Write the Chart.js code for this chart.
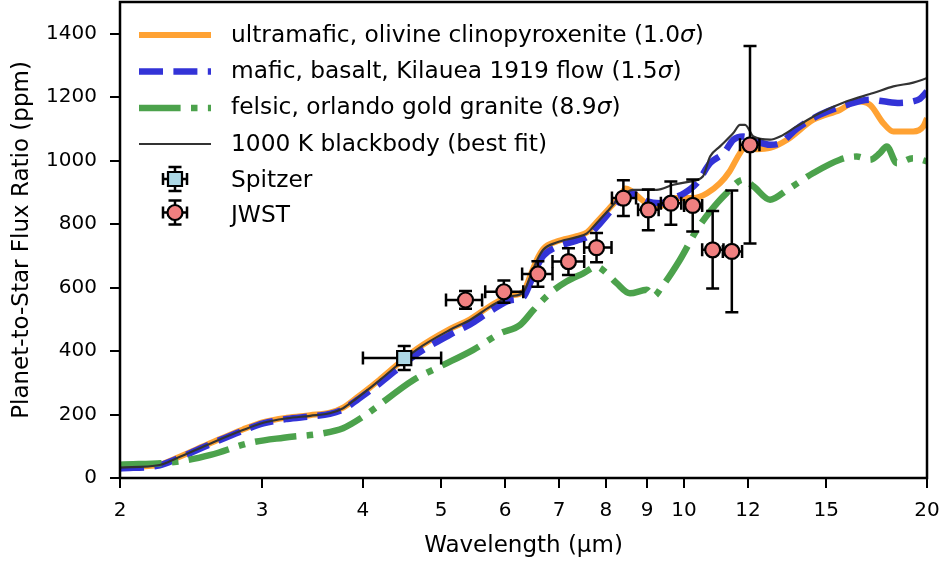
<!DOCTYPE html>
<html>
<head>
<meta charset="utf-8">
<script src="https://cdn.jsdelivr.net/npm/chart.js@4.4.0/dist/chart.umd.min.js"></script>
<style>
html, body { margin: 0; padding: 0; background: #fff; }
#wrap { width: 941px; height: 561px; position: relative; }
</style>
</head>
<body>
<div id="wrap"><canvas id="myChart"></canvas></div>
<script>
const ctx = document.getElementById('myChart').getContext('2d');

/*** Data ***/
const xTicks = [2, 3, 4, 5, 6, 7, 8, 9, 10, 12, 15, 20];
const yTicks = [0, 200, 400, 600, 800, 1000, 1200, 1400];

const umWave = [2.0, 2.24, 2.35, 2.59, 2.84, 3.01, 3.22, 3.44, 3.64, 3.78, 3.93, 4.08, 4.20, 4.66, 5.13, 5.43, 5.75, 6.09, 6.32, 6.46, 6.57, 6.69, 6.95, 7.36, 7.58, 7.79, 8.10, 8.35, 8.46, 8.99, 9.34, 9.78, 10.27, 10.67, 11.08, 11.38, 11.73, 11.96, 12.3, 12.78, 13.42, 14.46, 15.60, 16.36, 17.0, 17.66, 18.17, 19.23, 19.79, 20.0];
const umFlux = [33, 42, 63, 110, 153, 176, 190, 198, 206, 222, 253, 285, 311, 406, 470, 500, 542, 574, 587, 642, 688, 722, 745, 762, 774, 806, 853, 890, 912, 866, 856, 882, 882, 897, 929, 965, 1024, 1050, 1036, 1040, 1066, 1129, 1160, 1187, 1176, 1118, 1092, 1092, 1108, 1134];

const mafWave = [2.0, 2.24, 2.35, 2.59, 2.84, 3.01, 3.22, 3.44, 3.64, 3.78, 3.93, 4.08, 4.20, 4.66, 5.13, 5.43, 5.75, 6.09, 6.32, 6.46, 6.57, 6.69, 6.95, 7.36, 7.58, 7.79, 8.10, 8.35, 8.64, 8.99, 9.34, 9.70, 10.0, 10.37, 10.77, 11.2, 11.51, 11.84, 12.2, 12.78, 13.15, 13.79, 14.74, 15.91, 17.0, 17.66, 18.5, 19.23, 19.6, 20.0];
const mafFlux = [30, 40, 60, 107, 149, 172, 186, 194, 202, 216, 245, 275, 299, 390, 452, 484, 525, 560, 570, 620, 665, 700, 728, 748, 760, 790, 840, 880, 895, 872, 866, 882, 897, 929, 992, 1024, 1066, 1076, 1065, 1050, 1055, 1100, 1145, 1176, 1192, 1187, 1182, 1187, 1195, 1218];

const felWave = [2.0, 2.35, 2.59, 2.90, 3.19, 3.57, 3.78, 4.0, 4.62, 4.98, 5.48, 5.92, 6.26, 6.51, 6.82, 7.15, 7.50, 7.79, 8.02, 8.25, 8.57, 8.99, 9.16, 9.39, 9.88, 10.37, 10.77, 11.29, 11.84, 12.19, 12.78, 13.42, 14.46, 15.60, 16.36, 17.0, 17.49, 17.83, 18.35, 19.23, 20.0];
const felFlux = [42, 51, 73, 111, 127, 141, 157, 193, 309, 351, 404, 456, 482, 530, 582, 619, 645, 666, 645, 614, 582, 593, 572, 603, 687, 782, 840, 898, 940, 919, 877, 908, 961, 1003, 1013, 1003, 1024, 1045, 992, 1008, 998];

const bbWave = [2.0, 2.24, 2.35, 2.59, 2.84, 3.01, 3.22, 3.44, 3.64, 3.78, 3.93, 4.08, 4.20, 4.66, 5.13, 5.43, 5.75, 6.09, 6.32, 6.46, 6.57, 6.69, 6.95, 7.36, 7.58, 7.79, 8.10, 8.35, 8.64, 9.25, 9.70, 10.17, 10.55, 10.77, 11.08, 11.51, 11.73, 11.90, 12.19, 12.78, 13.15, 13.79, 14.74, 15.91, 17.16, 18.17, 19.23, 20.0];
const bbFlux = [33, 41, 62, 109, 151, 174, 188, 196, 204, 220, 251, 283, 309, 404, 467, 498, 540, 572, 585, 640, 685, 719, 742, 759, 771, 803, 850, 887, 908, 908, 924, 934, 950, 1013, 1045, 1087, 1113, 1113, 1076, 1066, 1076, 1108, 1150, 1187, 1213, 1234, 1246, 1260];

const spitzerWave = [4.5];
const spitzerFlux = [378];
const spitzerErr = [38];
const spitzerLo = [4.0];
const spitzerHi = [5.0];

const jwstWave = [5.36, 5.98, 6.59, 7.19, 7.79, 8.41, 9.03, 9.63, 10.25, 10.85, 11.46, 12.07];
const jwstFlux = [561, 587, 643, 682, 726, 882, 845, 866, 859, 719, 714, 1050];
const jwstErr = [28, 35, 40, 42, 46, 56, 64, 68, 82, 122, 192, 311];
const jwstLo = [5.07, 5.67, 6.30, 6.87, 7.52, 8.14, 8.77, 9.36, 10.0, 10.53, 11.17, 11.73];
const jwstHi = [5.62, 6.32, 6.87, 7.52, 8.13, 8.72, 9.30, 9.92, 10.53, 11.19, 11.80, 12.40];

const seriesLabels = [
    'ultramafic, olivine clinopyroxenite (1.0',
    'mafic, basalt, Kilauea 1919 flow (1.5',
    'felsic, orlando gold granite (8.9',
    '1000 K blackbody (best fit)',
    'Spitzer',
    'JWST'
];
/*************/

const ORANGE = '#ffa233';
const BLUE = '#3333d7';
const GREEN = '#4ca24c';
const DARK = '#333333';
const FONT = "'DejaVu Sans', sans-serif";

function toPoints(xs, ys) {
    return xs.map((x, i) => ({x: x, y: ys[i]}));
}

// draws errorbars just before the marker dataset so markers sit on top
const errorBars = {
    id: 'errorBars',
    beforeDatasetDraw(chart, args) {
        const ds = chart.data.datasets[args.index];
        if (!ds.errY) return;
        const { ctx, scales: { x, y } } = chart;
        const cap = 6.5;
        ctx.save();
        ctx.strokeStyle = '#000';
        ctx.lineWidth = 2.5;
        ds.data.forEach(function(p, i) {
            const px = x.getPixelForValue(p.x);
            const py = y.getPixelForValue(p.y);
            const x0 = x.getPixelForValue(ds.errXLo[i]);
            const x1 = x.getPixelForValue(ds.errXHi[i]);
            const y0 = y.getPixelForValue(p.y - ds.errY[i]);
            const y1 = y.getPixelForValue(p.y + ds.errY[i]);
            ctx.beginPath();
            ctx.moveTo(x0, py); ctx.lineTo(x1, py);
            ctx.moveTo(px, y0); ctx.lineTo(px, y1);
            ctx.moveTo(x0, py - cap); ctx.lineTo(x0, py + cap);
            ctx.moveTo(x1, py - cap); ctx.lineTo(x1, py + cap);
            ctx.moveTo(px - cap, y0); ctx.lineTo(px + cap, y0);
            ctx.moveTo(px - cap, y1); ctx.lineTo(px + cap, y1);
            ctx.stroke();
        });
        ctx.restore();
    }
};

// frame + legend block
const frameAndLegend = {
    id: 'frameAndLegend',
    afterDraw(chart) {
        const { ctx, chartArea: { top, right, bottom, left } } = chart;
        ctx.save();
        ctx.strokeStyle = '#000';
        ctx.lineWidth = 2.5;
        ctx.strokeRect(left, top, right - left, bottom - top);

        const lineY = [35, 71.5, 108, 144, 179, 212.5];
        const baseY = [41.5, 77.5, 114, 151, 186.5, 221.5];
        const textX = 231;
        const x0 = 139, x1 = 211, mx = 175;

        // line entries
        const styles = [
            {color: ORANGE, width: 6, dash: []},
            {color: BLUE, width: 6.5, dash: [24, 10.4]},
            {color: GREEN, width: 6.5, dash: [41.6, 10.4, 6.5, 10.4]},
            {color: DARK, width: 2.2, dash: []}
        ];
        styles.forEach(function(s, i) {
            ctx.beginPath();
            ctx.strokeStyle = s.color;
            ctx.lineWidth = s.width;
            ctx.setLineDash(s.dash);
            ctx.lineCap = 'butt';
            ctx.moveTo(x0, lineY[i]);
            ctx.lineTo(x1, lineY[i]);
            ctx.stroke();
        });
        ctx.setLineDash([]);

        // errorbar marker entries
        [[4, 'rect', '#add8e6'], [5, 'circle', '#f08080']].forEach(function(e) {
            const cy = lineY[e[0]];
            ctx.strokeStyle = '#000';
            ctx.lineWidth = 2.5;
            ctx.beginPath();
            ctx.moveTo(mx - 12, cy); ctx.lineTo(mx + 12, cy);
            ctx.moveTo(mx, cy - 12); ctx.lineTo(mx, cy + 12);
            ctx.moveTo(mx - 12, cy - 6); ctx.lineTo(mx - 12, cy + 6);
            ctx.moveTo(mx + 12, cy - 6); ctx.lineTo(mx + 12, cy + 6);
            ctx.moveTo(mx - 6.5, cy - 12); ctx.lineTo(mx + 6.5, cy - 12);
            ctx.moveTo(mx - 6.5, cy + 12); ctx.lineTo(mx + 6.5, cy + 12);
            ctx.stroke();
            ctx.fillStyle = e[2];
            ctx.lineWidth = 2.2;
            ctx.beginPath();
            if (e[1] === 'rect') {
                ctx.rect(mx - 7, cy - 7, 14, 14);
            } else {
                ctx.arc(mx, cy, 7.5, 0, Math.PI * 2);
            }
            ctx.fill();
            ctx.stroke();
        });

        // texts
        ctx.fillStyle = '#000';
        ctx.textBaseline = 'alphabetic';
        ctx.textAlign = 'left';
        seriesLabels.forEach(function(label, i) {
            ctx.font = '23.3px ' + FONT;
            ctx.fillText(label, textX, baseY[i]);
            if (i < 3) {
                let w = ctx.measureText(label).width;
                ctx.font = 'italic 23.3px ' + FONT;
                ctx.fillText('\u03c3', textX + w, baseY[i]);
                w += ctx.measureText('\u03c3').width;
                ctx.font = '23.3px ' + FONT;
                ctx.fillText(')', textX + w, baseY[i]);
            }
        });
        ctx.restore();
    }
};

//data
const data = {
    datasets: [
        {
            label: 'JWST',
            data: toPoints(jwstWave, jwstFlux),
            errY: jwstErr, errXLo: jwstLo, errXHi: jwstHi,
            showLine: false,
            pointStyle: 'circle',
            pointRadius: 7.5,
            pointBackgroundColor: '#f08080',
            pointBorderColor: '#000',
            pointBorderWidth: 2.2,
            order: 0
        },
        {
            label: 'Spitzer',
            data: toPoints(spitzerWave, spitzerFlux),
            errY: spitzerErr, errXLo: spitzerLo, errXHi: spitzerHi,
            showLine: false,
            pointStyle: 'rect',
            pointRadius: 10,
            pointBackgroundColor: '#add8e6',
            pointBorderColor: '#000',
            pointBorderWidth: 2.2,
            order: 1
        },
        {
            label: seriesLabels[3],
            data: toPoints(bbWave, bbFlux),
            showLine: true,
            borderColor: DARK,
            borderWidth: 2.2,
            pointRadius: 0,
            cubicInterpolationMode: 'monotone',
            order: 2
        },
        {
            label: seriesLabels[2],
            data: toPoints(felWave, felFlux),
            showLine: true,
            borderColor: GREEN,
            borderWidth: 6.5,
            borderDash: [41.6, 10.4, 6.5, 10.4],
            pointRadius: 0,
            cubicInterpolationMode: 'monotone',
            order: 3
        },
        {
            label: seriesLabels[1],
            data: toPoints(mafWave, mafFlux),
            showLine: true,
            borderColor: BLUE,
            borderWidth: 6.5,
            borderDash: [24, 10.4],
            pointRadius: 0,
            cubicInterpolationMode: 'monotone',
            order: 4
        },
        {
            label: seriesLabels[0],
            data: toPoints(umWave, umFlux),
            showLine: true,
            borderColor: ORANGE,
            borderWidth: 6,
            pointRadius: 0,
            cubicInterpolationMode: 'monotone',
            order: 5
        }
    ]
};

Chart.defaults.color = '#000';
Chart.defaults.font.family = FONT;

//config
const config = {
    type: 'scatter',
    data,
    options: {
        responsive: true,
        maintainAspectRatio: false,
        animation: false,
        layout: { autoPadding: false, padding: { top: 2, right: 14, left: 0, bottom: 0 } },
        plugins: {
            legend: { display: false },
            tooltip: { enabled: false }
        },
        scales: {
            x: {
                type: 'logarithmic',
                min: 2,
                max: 20,
                border: { display: false },
                grid: { drawOnChartArea: false, drawTicks: true, tickLength: 10, tickColor: '#000', lineWidth: 2 },
                ticks: {
                    autoSkip: false,
                    maxRotation: 0,
                    padding: 11,
                    font: { size: 20 },
                    callback: function(value) { return String(value); }
                },
                afterBuildTicks: function(scale) {
                    scale.ticks = xTicks.map(v => ({ value: v }));
                },
                afterFit: function(scale) {
                    scale.height = 83;
                    scale.paddingLeft = 0;
                    scale.paddingRight = 0;
                },
                title: {
                    display: true,
                    text: 'Wavelength (\u00b5m)',
                    font: { size: 23 },
                    padding: { top: 0, bottom: 1 }
                }
            },
            y: {
                type: 'linear',
                min: 0,
                max: 1500,
                border: { display: false },
                grid: { drawOnChartArea: false, drawTicks: true, tickLength: 10, tickColor: '#000', lineWidth: 2 },
                ticks: {
                    padding: 13,
                    font: { size: 20 },
                    callback: function(value) { return String(value); }
                },
                afterBuildTicks: function(scale) {
                    scale.ticks = yTicks.map(v => ({ value: v }));
                },
                afterFit: function(scale) {
                    scale.width = 120;
                    scale.paddingTop = 0;
                    scale.paddingBottom = 0;
                },
                title: {
                    display: true,
                    text: 'Planet-to-Star Flux Ratio (ppm)',
                    font: { size: 23 },
                    padding: { top: 8, bottom: 0 }
                }
            }
        }
    },
    plugins: [errorBars, frameAndLegend]
};

//render init
const myChart = new Chart(ctx, config);
</script>
</body>
</html>
